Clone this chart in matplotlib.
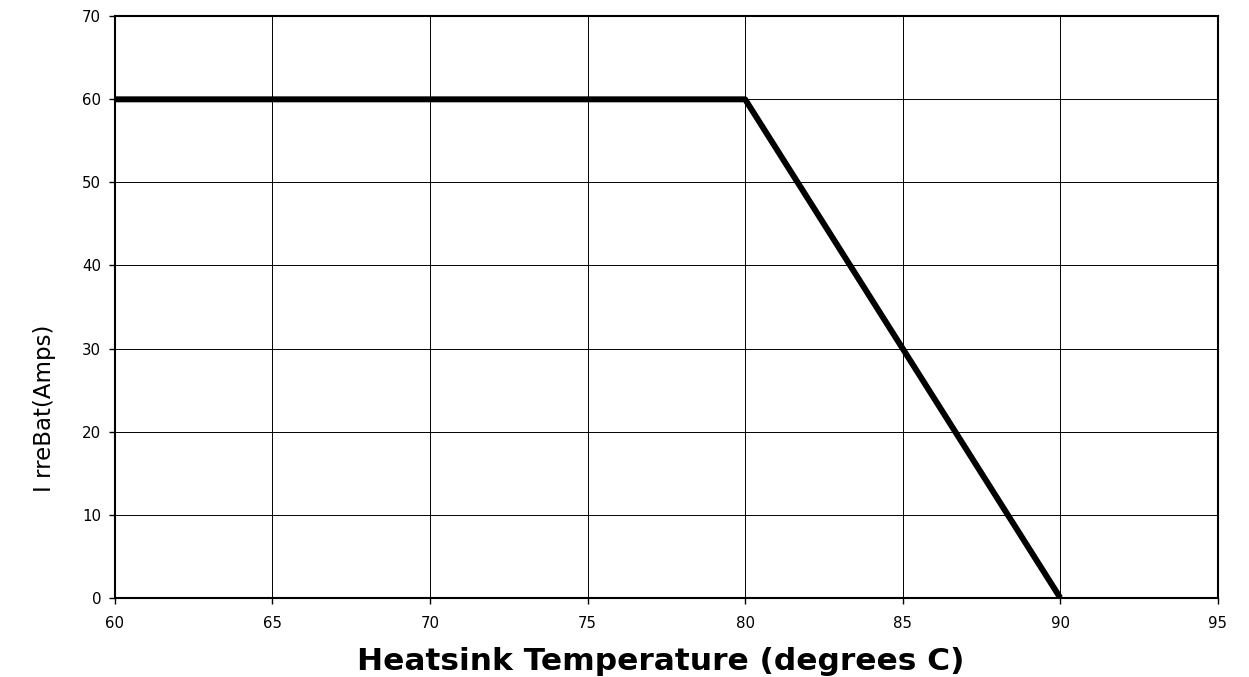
import matplotlib
matplotlib.use("Agg")
import matplotlib.pyplot as plt

# derating curve
temp = [60, 80, 90]
current = [60, 60, 0]

xticks = [60, 65, 70, 75, 80, 85, 90, 95]
yticks = [0, 10, 20, 30, 40, 50, 60, 70]

plt.rcParams['font.family'] = ['DejaVu Sans']

fig = plt.figure(figsize=(12.49, 6.77), dpi=100)
ax = fig.add_axes([0.092, 0.117, 0.883, 0.859])

ax.plot(temp, current, color='black', linewidth=4.3, solid_capstyle='butt', zorder=3)

ax.set_xlim(60, 95)
ax.set_ylim(0, 70)
ax.set_xticks(xticks)
ax.set_yticks(yticks)
ax.tick_params(axis='both', direction='out', length=4, width=1, labelsize=10.8)
ax.tick_params(axis='x', pad=9)
ax.tick_params(axis='y', pad=6)
ax.grid(True, color='black', linewidth=0.7)
for s in ax.spines.values():
    s.set_linewidth(1.5)

ax.set_xlabel("Heatsink Temperature (degrees C)", fontsize=22.5, fontweight='bold', va='baseline')
ax.xaxis.set_label_coords(0.495, -0.124)

# garbled y label as in the original
fig.text(0.036, 0.397, "I rreBat(Amps)", rotation=90, fontsize=16.5,
         ha='center', va='center')

fig.savefig("out.png", dpi=100)
